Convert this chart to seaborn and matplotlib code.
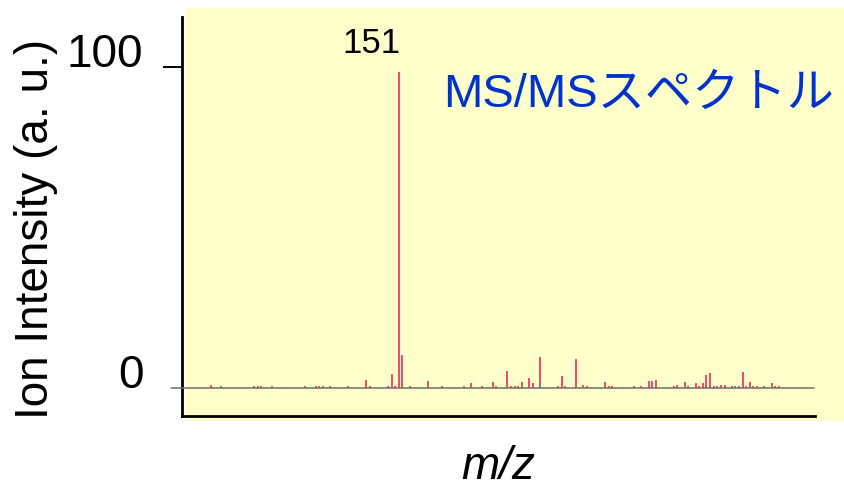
import numpy as np
import pandas as pd
import matplotlib
matplotlib.use('Agg')
import matplotlib.pyplot as plt
import seaborn as sns
from matplotlib.patches import Rectangle

# peak list (m/z, relative intensity)
mz = [99, 102, 111, 112, 113, 116, 125, 128, 129, 130, 132, 137, 142, 143,
      148, 149, 150, 151, 152, 154, 159, 163, 169, 171, 174, 177, 178, 181,
      182, 183, 184, 185, 187, 188, 190, 195, 196, 197, 200, 202, 203, 208,
      209, 210, 216, 218, 220, 221, 222, 227, 228, 230, 231, 233, 234, 235,
      236, 237, 238, 239, 240, 241, 243, 244, 245, 246, 247, 248, 249, 250,
      252, 254, 255, 256]
intensity = [1.0, 0.4, 0.4, 0.7, 0.4, 0.4, 0.4, 0.4, 0.4, 0.4, 0.4, 0.4, 2.5, 0.4,
             0.4, 4.3, 0.4, 98.5, 10.1, 0.4, 2.0, 0.4, 0.4, 1.6, 0.4, 1.7, 0.4, 5.3,
             0.4, 0.4, 0.4, 1.9, 3.1, 1.5, 9.5, 0.4, 3.6, 0.4, 9.0, 0.8, 0.4, 1.9,
             0.4, 0.4, 0.4, 0.4, 2.2, 2.2, 2.5, 0.4, 0.8, 1.9, 0.4, 1.6, 0.4, 1.5,
             4.0, 4.5, 0.4, 0.4, 1.0, 1.0, 0.4, 0.4, 0.4, 5.0, 0.4, 1.7, 0.4, 0.5,
             0.4, 1.6, 0.4, 0.4]
ytick_vals = [0, 100]
ytick_labels = ['0', '100']
base_peak = 151

spec = pd.DataFrame({'mz': mz, 'intensity': intensity})

sns.set_style('white')
plt.rcParams['font.family'] = ['Liberation Sans', 'Noto Sans CJK JP', 'DejaVu Sans']
plt.rcParams['text.color'] = 'black'
plt.rcParams['axes.labelcolor'] = 'black'
plt.rcParams['ytick.color'] = 'black'
plt.rcParams['ytick.labelcolor'] = 'black'

fig = plt.figure(figsize=(8.44, 4.91), dpi=100)
# pale yellow panel behind the plot
fig.patches.append(Rectangle((185 / 844, 1 - 421 / 491), 1, 413 / 491,
                             transform=fig.transFigure, facecolor='#FFFFCC',
                             edgecolor='none', zorder=-5))
ax = fig.add_axes([182.3 / 844, 1 - 415.7 / 491, 632.7 / 844, 398.4 / 491])
ax.set_facecolor('none')
ax.set_zorder(2)

ax.vlines(spec['mz'], 0, spec['intensity'], color='#F03C64', lw=1.3, zorder=2)
# baseline (doubles as the 0 tick)
ax.plot([88, 265.7], [0, 0], color='#6E6E6E', lw=1.1, clip_on=False, zorder=3)

ax.set_xlim(91.2, 266.0)
ax.set_ylim(-8.7, 115.4)

ax.set_xticks([])
ax.set_yticks(ytick_vals)
ax.set_yticklabels(ytick_labels, fontsize=33, va='baseline')
ax.tick_params(axis='y', direction='out', length=14, width=1.4, color='black',
               pad=14, left=True)
ax.yaxis.get_major_ticks()[0].tick1line.set_visible(False)

sns.despine(ax=ax)
for side in ['left', 'bottom']:
    ax.spines[side].set_color('black')
    ax.spines[side].set_linewidth(2.0)

ax.annotate(str(base_peak), xy=(base_peak, 98.5), xytext=(-20, 13),
            textcoords='offset points', ha='center', va='baseline', fontsize=25)

ax.text(0.413, 0.775, 'MS/MSスペクトル', transform=ax.transAxes, ha='left',
        va='baseline', fontsize=34, color='#0033CC')

ax.set_xlabel('m/z', fontsize=33, style='italic', labelpad=21)
fig.text(36 / 844, 1 - 229 / 491, 'Ion Intensity (a. u.)', rotation=90,
         ha='center', va='center', fontsize=33)

fig.savefig('out.png', dpi=100)
